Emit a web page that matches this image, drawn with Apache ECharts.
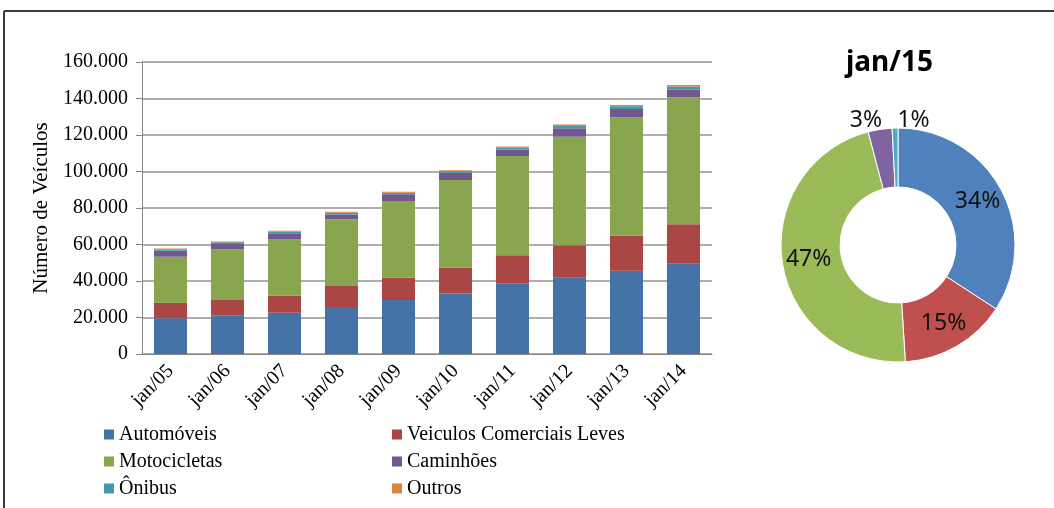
<!DOCTYPE html>
<html>
<head>
<meta charset="utf-8">
<script src="https://cdn.jsdelivr.net/npm/echarts@6/dist/echarts.min.js"></script>
<style>
html,body{margin:0;padding:0;background:#fff;}
#chart{width:1054px;height:508px;}
</style>
</head>
<body>
<div id="chart"></div>
<script>
// ---- Data ----
const categories = ['jan/05','jan/06','jan/07','jan/08','jan/09','jan/10','jan/11','jan/12','jan/13','jan/14'];
const seriesNames = ['Automóveis','Veiculos Comerciais Leves','Motocicletas','Caminhões','Ônibus','Outros'];
const automoveis   = [19600, 21200, 22600, 25800, 29600, 33200, 38700, 41800, 45600, 49500];
const comerciais   = [8500, 8400, 9400, 11500, 12200, 14100, 15400, 17800, 19200, 21600];
const motocicletas = [25200, 27600, 31000, 36500, 42000, 48000, 54400, 59500, 64900, 69500];
const caminhoes    = [3300, 3100, 3100, 2700, 3700, 4000, 3600, 4600, 4500, 4400];
const onibus       = [800, 900, 900, 900, 900, 900, 1000, 1300, 1500, 1600];
const outros       = [400, 400, 500, 500, 500, 500, 600, 700, 800, 800];
const yTicks = [0, 20000, 40000, 60000, 80000, 100000, 120000, 140000, 160000];
const pieTitle = 'jan/15';
const pieNames = ['Automóveis','Veiculos Comerciais Leves','Motocicletas','Caminhões','Ônibus'];
const pieValues = [34.2, 14.8, 46.9, 3.3, 0.8];

// ---- Styles ----
const barColors = ['#4572A7','#AA4643','#89A54E','#71588F','#4198AF','#DB843D'];
const pieColors = ['#4F81BD','#C0504D','#9BBB59','#8064A2','#4BACC6'];
const serif = '"Liberation Serif", "Times New Roman", serif';
const sans = '"Noto Sans", "Open Sans", sans-serif';

const barData = [automoveis, comerciais, motocicletas, caminhoes, onibus, outros];

const fmt = v => String(v).replace(/\B(?=(\d{3})+(?!\d))/g, '.');

const chart = echarts.init(document.getElementById('chart'));
chart.setOption({
  animation: false,
  backgroundColor: '#fff',
  title: {
    text: pieTitle,
    left: 846, top: 49, padding: 0,
    textStyle: {fontFamily: sans, fontWeight: 'bold', fontSize: 28, color: '#000'}
  },
  legend: {
    left: 104, top: 421, width: 600, padding: 0,
    itemWidth: 10, itemHeight: 10, itemGap: 0,
    icon: 'rect',
    data: seriesNames.map((n, i) => ({name: n, itemStyle: {color: barColors[i]}})),
    textStyle: {fontFamily: serif, fontSize: 20, color: '#000', width: 273, lineHeight: 27, padding: [0,0,0,0]}
  },
  grid: {left: 142, right: 342, top: 62, bottom: 154, containLabel: false},
  xAxis: {
    type: 'category', data: categories,
    axisLine: {lineStyle: {color: '#868686', width: 1}},
    axisTick: {show: false},
    axisLabel: {rotate: 45, margin: 14, fontFamily: serif, fontSize: 20, color: '#000', interval: 0}
  },
  yAxis: {
    type: 'value', min: 0, max: 160000, interval: 20000,
    name: 'Número de Veículos', nameLocation: 'middle', nameGap: 86, nameRotate: 90,
    nameTextStyle: {fontFamily: serif, fontSize: 21, color: '#000'},
    axisLine: {show: true, lineStyle: {color: '#868686', width: 1}},
    axisTick: {show: true, length: 6, lineStyle: {color: '#868686'}},
    axisLabel: {fontFamily: serif, fontSize: 20, color: '#000', margin: 14, formatter: fmt},
    splitLine: {lineStyle: {color: '#939393', width: 1.5}}
  },
  series: barData.map((d, i) => ({
    name: seriesNames[i], type: 'bar', stack: 'total', data: d,
    barWidth: '58%',
    itemStyle: {color: barColors[i]}
  })).concat([{
    type: 'pie', name: pieTitle,
    center: [898, 245], radius: [58, 117],
    startAngle: 90, clockwise: true,
    data: pieNames.map((n, i) => ({
      name: n, value: pieValues[i],
      itemStyle: {color: pieColors[i]},
      label: i >= 3 ? {position: 'outside'} : {position: 'inside'},
      labelLine: {show: false, length: 13, length2: 0}
    })),
    itemStyle: {borderColor: '#fff', borderWidth: 1},
    label: {
      fontFamily: sans, fontSize: 23, color: '#111',
      formatter: p => Math.round(p.percent) + '%'
    },
    labelLayout: p => (p.dataIndex === 3 ? {dx: 61, dy: -20} : (p.dataIndex === 4 ? {dx: 40, dy: 5} : {})),
    emphasis: {disabled: true}
  }]),
  graphic: [
    {type: 'line', shape: {x1: 4, y1: 11, x2: 1054, y2: 11}, style: {stroke: '#3a3a3a', lineWidth: 2}},
    {type: 'line', shape: {x1: 4, y1: 11, x2: 4, y2: 508}, style: {stroke: '#3a3a3a', lineWidth: 2}}
  ]
});
</script>
</body>
</html>
